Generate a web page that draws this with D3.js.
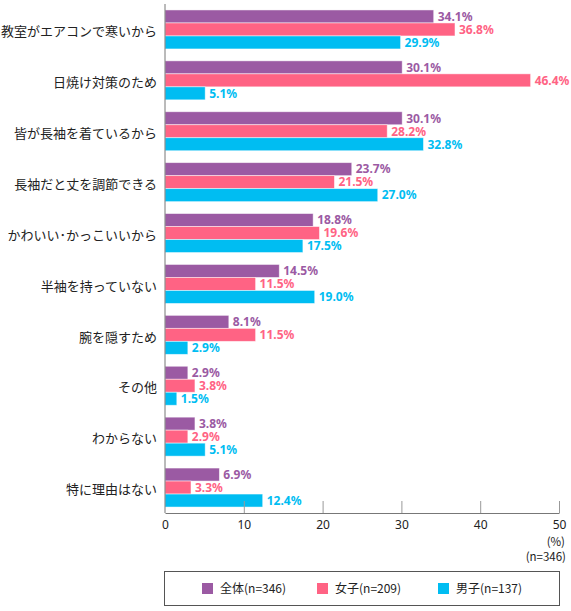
<!DOCTYPE html>
<html lang="ja">
<head>
<meta charset="utf-8">
<script src="https://cdn.jsdelivr.net/npm/d3@7"></script>
<style>
  html, body { margin: 0; padding: 0; background: #fff; }
  svg { display: block; font-family: "Noto Sans CJK JP", "Noto Sans", sans-serif; }
</style>
</head>
<body>
<div id="chart"></div>
<script>
// Reasons (top to bottom)
const categories = [
	"教室がエアコンで寒いから",
	"日焼け対策のため",
	"皆が長袖を着ているから",
	"長袖だと丈を調節できる",
	"かわいい･かっこいいから",
	"半袖を持っていない",
	"腕を隠すため",
	"その他",
	"わからない",
	"特に理由はない",
];

const seriesNames = ["全体(n=346)", "女子(n=209)", "男子(n=137)"];
const seriesColors = ["#9b5aa3", "#ff6384", "#00bdf2"];

const totalValues = [34.1, 30.1, 30.1, 23.7, 18.8, 14.5, 8.1, 2.9, 3.8, 6.9];
const girlsValues = [36.8, 46.4, 28.2, 21.5, 19.6, 11.5, 11.5, 3.8, 2.9, 3.3];
const boysValues = [29.9, 5.1, 32.8, 27.0, 17.5, 19.0, 2.9, 1.5, 5.1, 12.4];

const xTicks = [0, 10, 20, 30, 40, 50];

const W = 571, H = 611;
const margin = { top: 4, left: 165, right: 12 };
const axisY = 513;
const xMax = 559;

const svg = d3.select("#chart").append("svg")
	.attr("width", W)
	.attr("height", H);

const x = d3.scaleLinear().domain([0, 50]).range([margin.left, xMax]);
const y = d3.scaleBand()
	.domain(categories)
	.range([margin.top, axisY])
	.paddingInner(0.234)
	.paddingOuter(0.117);
const ySub = d3.scaleBand()
	.domain(d3.range(3))
	.range([0, y.bandwidth()]);

const series = [totalValues, girlsValues, boysValues];

// Bars
const groups = svg.append("g").selectAll("g")
	.data(categories)
	.join("g")
	.attr("transform", (d) => `translate(0,${y(d)})`);

series.forEach((vals, si) => {
	groups.append("rect")
		.attr("x", x(0))
		.attr("y", ySub(si))
		.attr("width", (d, i) => x(vals[i]) - x(0))
		.attr("height", ySub.bandwidth())
		.attr("fill", seriesColors[si])
		.attr("stroke", "#fff")
		.attr("stroke-opacity", 0.6)
		.attr("stroke-width", 0.8);

	groups.append("text")
		.attr("x", (d, i) => x(vals[i]) + 4)
		.attr("y", ySub(si) + ySub.bandwidth() / 2)
		.attr("dy", "0.36em")
		.style("fill", seriesColors[si])
		.style("font-size", "12px")
		.style("font-weight", "bold")
		.style("font-family", "'Noto Sans', sans-serif")
		.text((d, i) => vals[i].toFixed(1) + "%");
});

// Category labels
svg.append("g").selectAll("text")
	.data(categories)
	.join("text")
	.attr("x", 157)
	.attr("y", (d) => y(d) + y.bandwidth() / 2 + 2)
	.attr("dy", "0.36em")
	.attr("text-anchor", "end")
	.style("fill", "#222")
	.style("font-size", "13px")
	.text((d) => d);

// Axes
svg.append("line")
	.attr("x1", x(0)).attr("x2", x(0))
	.attr("y1", margin.top).attr("y2", axisY)
	.attr("stroke", "#777");

svg.append("g")
	.attr("transform", `translate(0,${axisY})`)
	.call(d3.axisBottom(x).tickValues(xTicks).tickSizeInner(-12).tickSizeOuter(0).tickPadding(7))
	.call((g) => {
		g.select(".domain").attr("stroke", "#777");
		g.selectAll(".tick line").attr("stroke", "#999");
		g.selectAll(".tick").filter((d) => d === 0).select("line").remove();
		g.selectAll("text")
			.style("fill", "#222")
			.style("font-size", "12px")
			.style("font-family", "'Noto Sans', sans-serif");
	});

svg.append("text")
	.attr("x", 565).attr("y", 546)
	.attr("text-anchor", "end")
	.style("font-size", "11.5px")
	.style("fill", "#222")
	.text("(%)");
svg.append("text")
	.attr("x", 566).attr("y", 561)
	.attr("text-anchor", "end")
	.style("font-size", "11.5px")
	.style("fill", "#222")
	.text("(n=346)");

// Legend
const legend = svg.append("g");
legend.append("rect")
	.attr("x", 164.5).attr("y", 571.5)
	.attr("width", 395).attr("height", 34)
	.attr("fill", "#fff")
	.attr("stroke", "#555");

const legendX = [202, 317, 438];
seriesNames.forEach((name, i) => {
	legend.append("rect")
		.attr("x", legendX[i]).attr("y", 583)
		.attr("width", 11).attr("height", 11)
		.attr("fill", seriesColors[i]);
	legend.append("text")
		.attr("x", legendX[i] + 18).attr("y", 589)
		.attr("dy", "0.36em")
		.style("font-size", "12px")
		.style("fill", "#222")
		.text(name);
});
</script>
</body>
</html>
